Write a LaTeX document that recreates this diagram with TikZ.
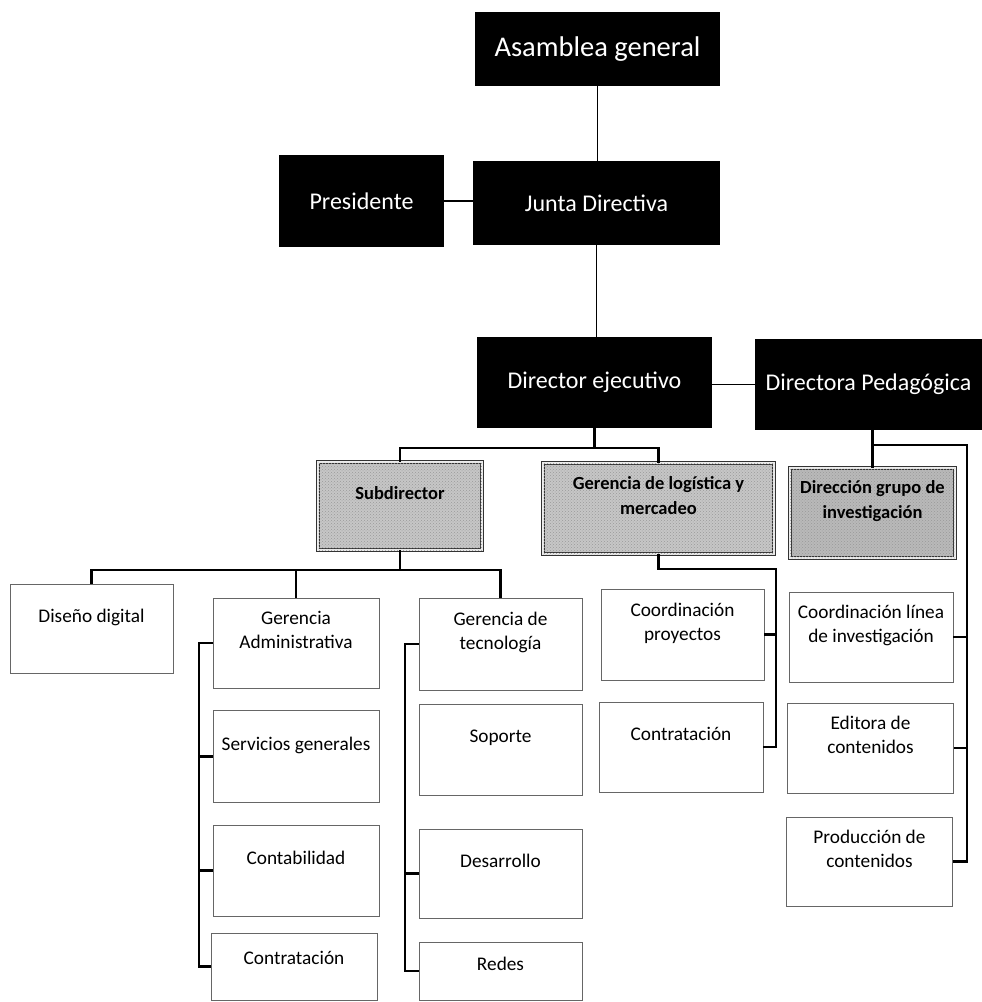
\documentclass[tikz,border=0pt]{standalone}
\usepackage{fontspec}
\setmainfont{Carlito}
\usetikzlibrary{patterns}

\begin{document}
\begin{tikzpicture}[x=1pt,y=-1pt,
    blackbox/.style={rectangle,fill=black,text=white,align=center,inner sep=0pt,font=\fontsize{24}{28}\selectfont},
    greybox/.style={rectangle,draw=black!80,double=gray!15,double distance=1.6pt,line width=0.9pt,fill=gray!45,postaction={pattern=crosshatch dots,pattern color=gray!80},align=center,inner sep=0pt,text depth=26pt,font=\bfseries\fontsize{18.5}{25}\selectfont},
    whitebox/.style={rectangle,draw=black!60,line width=0.7pt,minimum width=166pt,minimum height=90pt,align=center,inner sep=0pt,text depth=26pt,font=\fontsize{19.3}{24}\selectfont},
    thinlink/.style={line width=1.3pt},
    link/.style={line width=2.2pt}]
    \useasboundingbox (0,0) rectangle (982,1002);

    \node[blackbox,minimum width=245pt,minimum height=74pt,font=\fontsize{28.5}{32}\selectfont] (asamblea) at (597.5,49) {Asamblea general};
    \node[blackbox,minimum width=165pt,minimum height=92pt] (presidente) at (361.5,201) {Presidente};
    \node[blackbox,minimum width=247pt,minimum height=84pt] (junta) at (596.5,203) {Junta Directiva};
    \node[blackbox,minimum width=235pt,minimum height=91pt] (direjec) at (594.5,382.5) {Director ejecutivo};
    \node[blackbox,minimum width=227pt,minimum height=91pt] (dirpeda) at (868.5,384.5) {Directora Pedagógica};

    \node[greybox,minimum width=164pt,minimum height=88pt] (subdir) at (400,506) {Subdirector};
    \node[greybox,minimum width=231pt,minimum height=91pt] (gerlog) at (658.5,508.5) {Gerencia de logística y\\mercadeo};
    \node[greybox,minimum width=165pt,minimum height=90pt,fill=gray!55] (dirinv) at (872.5,513) {Dirección grupo de\\investigación};

    \node[whitebox,minimum width=163pt,minimum height=89pt] (disenio) at (91.5,628.5) {Diseño digital};
    \node[whitebox] (geradm) at (296,643) {Gerencia\\Administrativa};
    \node[whitebox,minimum height=92pt] (servgen) at (296,756.5) {Servicios generales};
    \node[whitebox,minimum height=91pt] (contab) at (296,870.5) {Contabilidad};
    \node[whitebox,minimum height=67pt,text depth=18pt] (contratA) at (294,966.5) {Contratación};

    \node[whitebox,minimum width=163pt,minimum height=92pt] (gertec) at (500.5,644) {Gerencia de\\tecnología};
    \node[whitebox,minimum width=163pt,minimum height=91pt] (soporte) at (500.5,749.5) {Soporte};
    \node[whitebox,minimum width=163pt,minimum height=89pt] (desarrollo) at (500.5,873.5) {Desarrollo};
    \node[whitebox,minimum width=163pt,minimum height=58pt,text depth=15pt] (redes) at (500.5,971) {Redes};

    \node[whitebox,minimum width=163pt,minimum height=91pt] (coordproy) at (682.5,634.5) {Coordinación\\proyectos};
    \node[whitebox,minimum width=164pt] (contratB) at (681,747) {Contratación};
    \node[whitebox,minimum width=164pt] (coordlin) at (871,637) {Coordinación línea\\de investigación};
    \node[whitebox] (editora) at (870.5,748) {Editora de\\contenidos};
    \node[whitebox,minimum height=89pt] (produccion) at (869.5,861.5) {Producción de\\contenidos};

    \draw[thinlink] (asamblea.south) -- (asamblea.south |- junta.north);
    \draw[thinlink] (presidente.east) -- (presidente.east -| junta.west);
    \draw[thinlink] (junta.south) -- (junta.south |- direjec.north);
    \draw[thinlink] (direjec.east |- dirpeda.west) -- (dirpeda.west);

    \coordinate (barA) at (594.5,448);
    \draw[link] (direjec.south) -- (barA);
    \draw[link] (subdir.north) |- (barA) -| (gerlog.north);

    \coordinate (barB) at (967,445);
    \draw[link] (dirinv.north) -- (dirinv.north |- dirpeda.south);
    \draw[link] (dirinv.north |- barB) -- (barB) |- (produccion.east);
    \draw[link] (coordlin.east) -- (coordlin.east -| barB);
    \draw[link] (editora.east) -- (editora.east -| barB);

    \coordinate (barC) at (400,570);
    \draw[link] (subdir.south) -- (barC);
    \draw[link] (disenio.north) |- (barC) -| (gertec.north);
    \draw[link] (geradm.north) -- (geradm.north |- barC);
    \draw[link] (geradm.west) -- ++(-14,0) |- (contratA.west);
    \draw[link] (servgen.west) -- ++(-14,0);
    \draw[link] (contab.west) -- ++(-14,0);
    \draw[link] (gertec.west) -- ++(-14,0) |- (redes.west);
    \draw[link] (desarrollo.west) -- ++(-14,0);

    \coordinate (barD) at (776,569);
    \draw[link] (gerlog.south) |- (barD) |- (contratB.east);
    \draw[link] (coordproy.east) -- (coordproy.east -| barD);
\end{tikzpicture}
\end{document}
